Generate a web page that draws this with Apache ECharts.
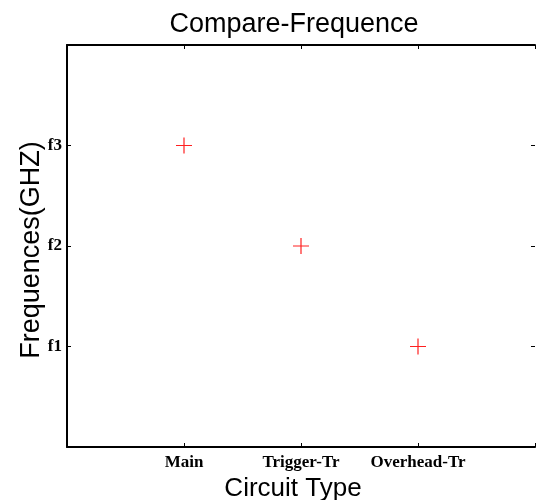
<!DOCTYPE html>
<html>
<head>
<meta charset="utf-8">
<title>Compare-Frequence</title>
<style>
  html, body { margin: 0; padding: 0; background: #fff; }
  #chart { width: 536px; height: 500px; }
</style>
</head>
<body>
<div id="chart"></div>
<script src="https://cdn.jsdelivr.net/npm/echarts@6/dist/echarts.min.js"></script>
<script>
  // data
  var circuitTypes = ['Main', 'Trigger-Tr', 'Overhead-Tr'];
  var freqLabels = ['f1', 'f2', 'f3'];
  var freqValues = [3, 2, 1]; // f3, f2, f1

  var points = circuitTypes.map(function (c, i) { return [i + 1, freqValues[i]]; });

  var plus = 'path://M7.4,0H8.6V7.4H16V8.6H8.6V16H7.4V8.6H0V7.4H7.4Z';
  var tickFont = { fontFamily: 'Liberation Serif', fontWeight: 'bold', fontSize: 17, color: '#000' };
  var lineStyle = { color: '#000', width: 2 };

  var chart = echarts.init(document.getElementById('chart'));
  chart.setOption({
    animation: false,
    title: {
      text: 'Compare-Frequence',
      left: 289, top: 6, textAlign: 'center',
      textStyle: { fontFamily: 'Liberation Sans', fontWeight: 'normal', fontSize: 27, color: '#000' }
    },
    grid: { left: 67, right: 1, top: 45, bottom: 53, outerBoundsMode: 'none' },
    xAxis: [{
      type: 'value', min: 0, max: 4, interval: 1,
      name: 'Circuit Type', nameLocation: 'middle', nameGap: 23,
      nameTextStyle: { fontFamily: 'Liberation Sans', fontSize: 26, color: '#000', padding: [0, 16, 0, 0] },
      axisLine: { onZero: false, lineStyle: lineStyle },
      axisTick: { inside: true, length: 4, lineStyle: { color: '#000' } },
      axisLabel: Object.assign({ margin: 7, formatter: function (v) { return circuitTypes[v - 1] || ''; } }, tickFont),
      splitLine: { show: false }
    }, {
      type: 'value', min: 0, max: 4, interval: 1, position: 'top',
      axisLine: { onZero: false, lineStyle: lineStyle },
      axisTick: { inside: true, length: 4, lineStyle: { color: '#000' } },
      axisLabel: { show: false },
      splitLine: { show: false }
    }],
    yAxis: [{
      type: 'value', min: 0, max: 4, interval: 1,
      name: 'Frequences(GHZ)', nameLocation: 'middle', nameGap: 22, nameMoveOverlap: false,
      nameTextStyle: { fontFamily: 'Liberation Sans', fontSize: 27, color: '#000', padding: [0, 8, 0, 0] },
      axisLine: { onZero: false, lineStyle: lineStyle },
      axisTick: { inside: true, length: 4, lineStyle: { color: '#000' } },
      axisLabel: Object.assign({ margin: 5, formatter: function (v) { return freqLabels[v - 1] || ''; } }, tickFont),
      splitLine: { show: false }
    }, {
      type: 'value', min: 0, max: 4, interval: 1, position: 'right',
      axisLine: { show: false, onZero: false },
      axisTick: { show: true, inside: true, length: 4, lineStyle: { color: '#000' } },
      axisLabel: { show: false },
      splitLine: { show: false }
    }],
    series: [{
      type: 'scatter',
      data: points,
      symbol: plus,
      symbolSize: 16,
      itemStyle: { color: '#ff2020', opacity: 1 }
    }]
  });
</script>
</body>
</html>
